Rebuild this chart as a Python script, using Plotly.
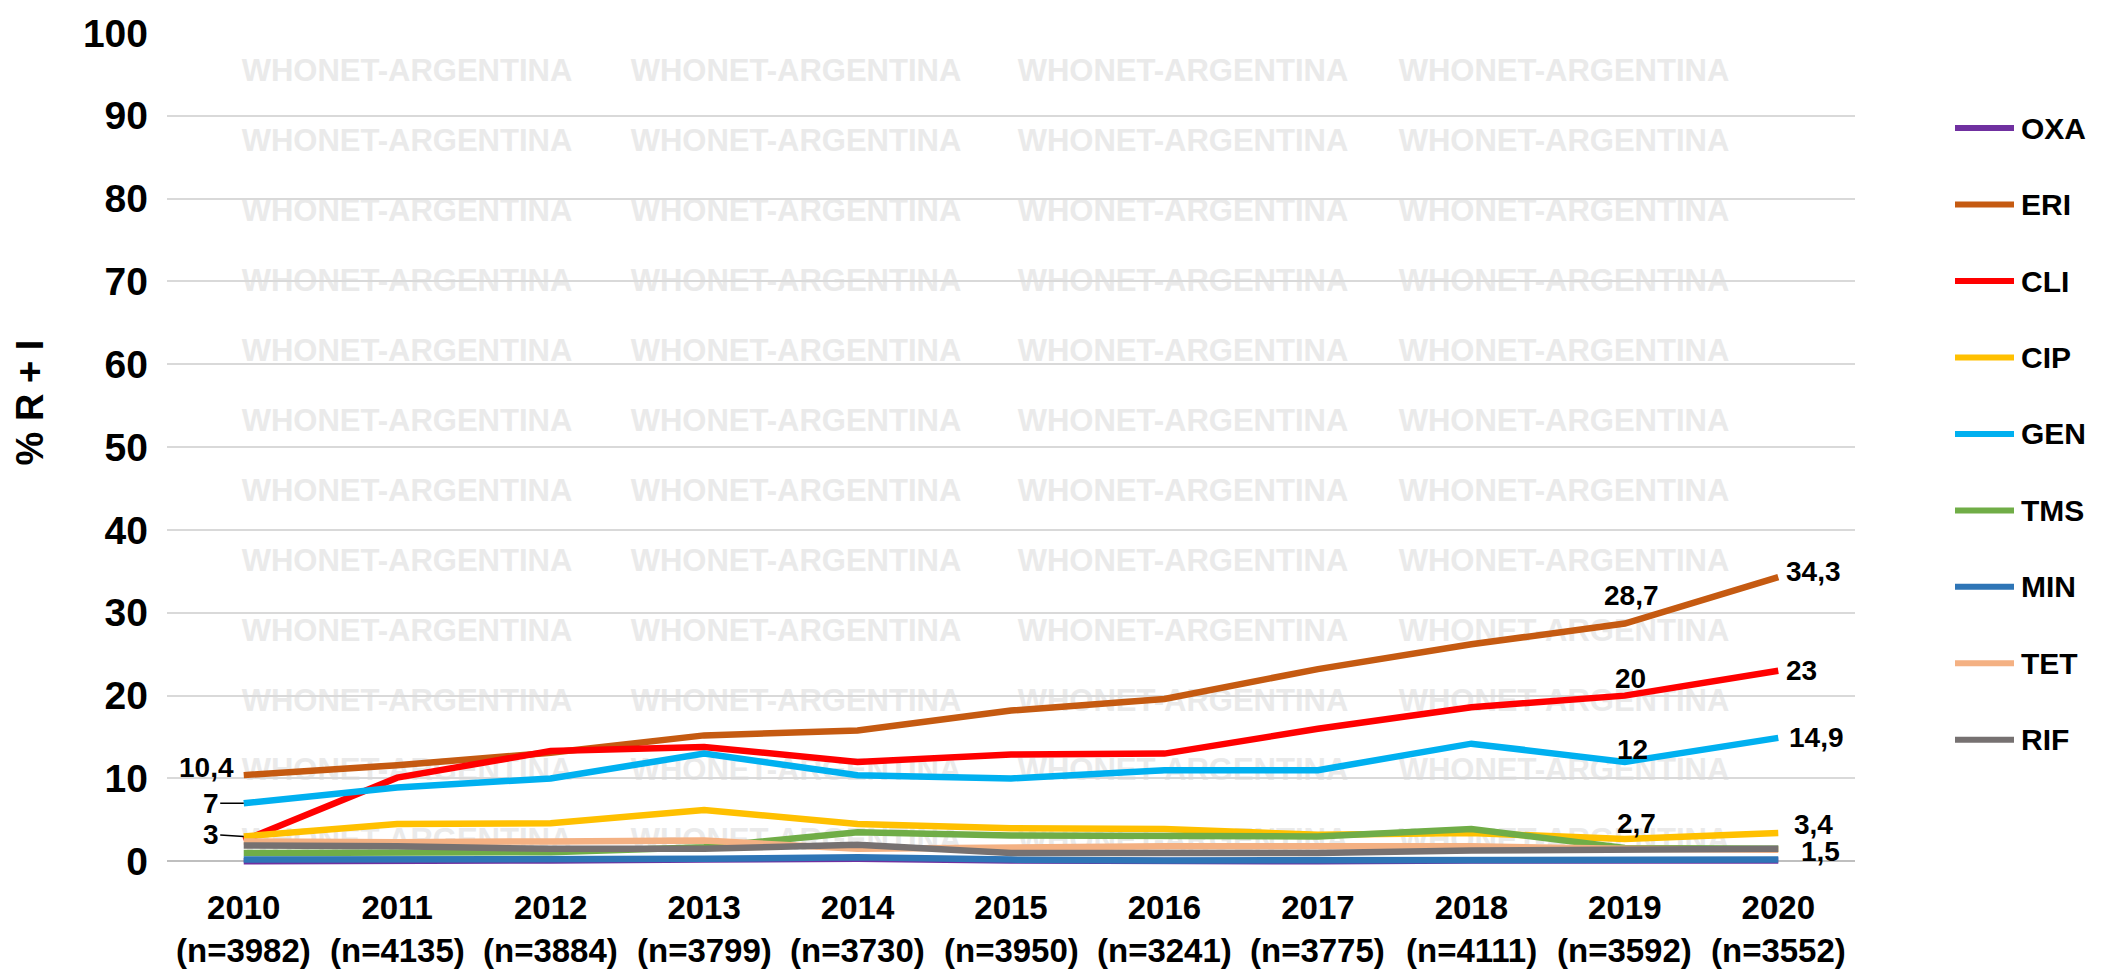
import plotly.graph_objects as go

# ---------------- data ----------------
years = ["2010", "2011", "2012", "2013", "2014", "2015", "2016", "2017", "2018", "2019", "2020"]
n_counts = [3982, 4135, 3884, 3799, 3730, 3950, 3241, 3775, 4111, 3592, 3552]

series_names = ["OXA", "ERI", "CLI", "CIP", "GEN", "TMS", "MIN", "TET", "RIF"]
OXA = [0.0, 0.0, 0.1, 0.2, 0.3, 0.1, 0.0, 0.0, 0.1, 0.1, 0.1]
ERI = [10.4, 11.6, 13.1, 15.2, 15.8, 18.2, 19.6, 23.2, 26.2, 28.7, 34.3]
CLI = [2.5, 10.1, 13.3, 13.8, 12.0, 12.9, 13.0, 16.0, 18.6, 20.0, 23.0]
CIP = [3.0, 4.5, 4.6, 6.2, 4.5, 4.0, 3.9, 3.2, 3.4, 2.7, 3.4]
GEN = [7.0, 8.9, 10.0, 13.0, 10.4, 10.0, 11.0, 11.0, 14.2, 12.0, 14.9]
TMS = [1.0, 1.0, 1.1, 1.7, 3.5, 3.1, 3.0, 3.0, 3.9, 1.6, 1.5]
MIN = [0.2, 0.2, 0.2, 0.3, 0.5, 0.2, 0.1, 0.1, 0.2, 0.2, 0.2]
TET = [2.4, 2.3, 2.4, 2.5, 1.5, 1.7, 1.8, 1.8, 1.8, 1.5, 1.4]
RIF = [1.9, 1.8, 1.5, 1.5, 2.0, 1.0, 1.0, 1.0, 1.3, 1.4, 1.5]
series_values = [OXA, ERI, CLI, CIP, GEN, TMS, MIN, TET, RIF]

y_ticks = [0, 10, 20, 30, 40, 50, 60, 70, 80, 90, 100]
y_title = "% R + I"
watermark = "WHONET-ARGENTINA"

# ---------------- style ----------------
colors = ["#7030A0", "#C55A11", "#FF0000", "#FFC000", "#00B0F0",
          "#70AD47", "#2E75B6", "#F4B183", "#767171"]
FONT = "Liberation Sans, Arial, sans-serif"

W, H = 2105, 972
L, R, T, B = 167, 250, 25, 107
PW, PH = W - L - R, H - T - B


def pxx(px):
    return (px - L) / PW


def pxy(py):
    return (H - B - py) / PH


def fmt(v):
    s = ("%.1f" % v).rstrip("0").rstrip(".")
    return s.replace(".", ",")


x_idx = list(range(len(years)))

fig = go.Figure()
for name, vals, col in zip(series_names, series_values, colors):
    fig.add_trace(go.Scatter(
        x=x_idx, y=vals, mode="lines", name=name,
        line=dict(color=col, width=6.5),
        hoverinfo="skip", showlegend=False,
    ))

shapes = []
annotations = []

# watermark grid (below gridlines)
wm_cols = [407, 796, 1183, 1564]
wm_rows = [60 + 70.6 * k for k in range(12)]
for cy in wm_rows:
    for cx in wm_cols:
        shapes.append(dict(
            type="rect", xref="paper", yref="paper", layer="below",
            x0=pxx(cx - 180), x1=pxx(cx + 180),
            y0=pxy(cy + 18), y1=pxy(cy - 18),
            line=dict(width=0), fillcolor="rgba(0,0,0,0)",
            label=dict(text=watermark, textposition="middle center",
                       font=dict(family=FONT, size=31, color="#EAEAEA", weight="bold")),
        ))

# manual legend
leg_y0, leg_dy = 121, 77.2
for i, (name, col) in enumerate(zip(series_names, colors)):
    yy = leg_y0 + leg_dy * i
    shapes.append(dict(
        type="line", xref="paper", yref="paper",
        x0=pxx(1955), x1=pxx(2014), y0=pxy(yy), y1=pxy(yy),
        line=dict(color=col, width=6),
    ))
    annotations.append(dict(
        xref="paper", yref="paper", x=pxx(2019), y=pxy(yy),
        xanchor="left", yanchor="middle", showarrow=False,
        text="<b>%s</b>" % name,
        font=dict(family=FONT, size=30, color="black"),
    ))

# y-axis title
annotations.append(dict(
    xref="paper", yref="paper", x=pxx(30), y=pxy(398),
    xanchor="center", yanchor="middle", showarrow=False, textangle=-90,
    text="<b>%s</b>" % y_title,
    font=dict(family=FONT, size=38, color="black"),
))

# second line of x tick labels (sample sizes)
for i, n in zip(x_idx, n_counts):
    annotations.append(dict(
        x=i, xref="x", yref="paper", y=pxy(951),
        xanchor="center", yanchor="middle", showarrow=False,
        text="<b>(n=%d)</b>" % n,
        font=dict(family=FONT, size=33, color="black"),
    ))

# data labels: (series, index, xanchor, xshift, yshift)
labels = [
    ("ERI", 0, "right", -8, 8),
    ("ERI", 9, "center", 7, 28),
    ("ERI", 10, "left", 6, 6),
    ("CLI", 9, "center", 6, 17),
    ("CLI", 10, "left", 6, 0),
    ("GEN", 9, "center", 8, 12),
    ("GEN", 10, "left", 9, 0),
    ("CIP", 9, "center", 12, 15),
    ("CIP", 10, "left", 14, 9),
    ("RIF", 10, "left", 21, -3),
]
for name, i, xa, xs, ys in labels:
    v = series_values[series_names.index(name)][i]
    annotations.append(dict(
        x=x_idx[i], y=v, xref="x", yref="y", xanchor=xa, yanchor="middle",
        xshift=xs, yshift=ys, showarrow=False, text="<b>%s</b>" % fmt(v),
        font=dict(family=FONT, size=28, color="black"),
    ))

# labels with leader lines
for name, i, ayy in [("GEN", 0, 0), ("CIP", 0, -2)]:
    v = series_values[series_names.index(name)][i]
    annotations.append(dict(
        x=x_idx[i], y=v, xref="x", yref="y", ax=-33, ay=ayy,
        showarrow=True, arrowhead=0, arrowwidth=1.5, arrowcolor="black",
        standoff=0, startstandoff=0, text="<b>%s</b>" % fmt(v),
        font=dict(family=FONT, size=28, color="black"),
    ))

fig.update_layout(
    width=W, height=H, autosize=False,
    margin=dict(l=L, r=R, t=T, b=B, pad=0),
    paper_bgcolor="white", plot_bgcolor="white",
    font=dict(family=FONT, color="black"),
    shapes=shapes, annotations=annotations,
    xaxis=dict(
        range=[-0.5, 10.5], tickmode="array", tickvals=x_idx, ticktext=years,
        showgrid=False, zeroline=False, showline=False, ticks="",
        tickfont=dict(family=FONT, size=33, color="black", weight="bold"),
        ticklabelstandoff=20,
    ),
    yaxis=dict(
        range=[-0.45, 100], tickmode="array", tickvals=y_ticks,
        ticktext=[str(t) for t in y_ticks],
        showgrid=True, gridcolor="#D9D9D9", gridwidth=1.5,
        zeroline=True, zerolinecolor="#BFBFBF", zerolinewidth=2,
        showline=False, ticks="",
        tickfont=dict(family=FONT, size=39, color="black", weight="bold"),
        ticklabelstandoff=18,
    ),
)

fig.write_html(
    "out.html",
    config={"displayModeBar": False},
    post_script="document.body.style.margin='0';document.body.style.overflow='hidden';",
)
